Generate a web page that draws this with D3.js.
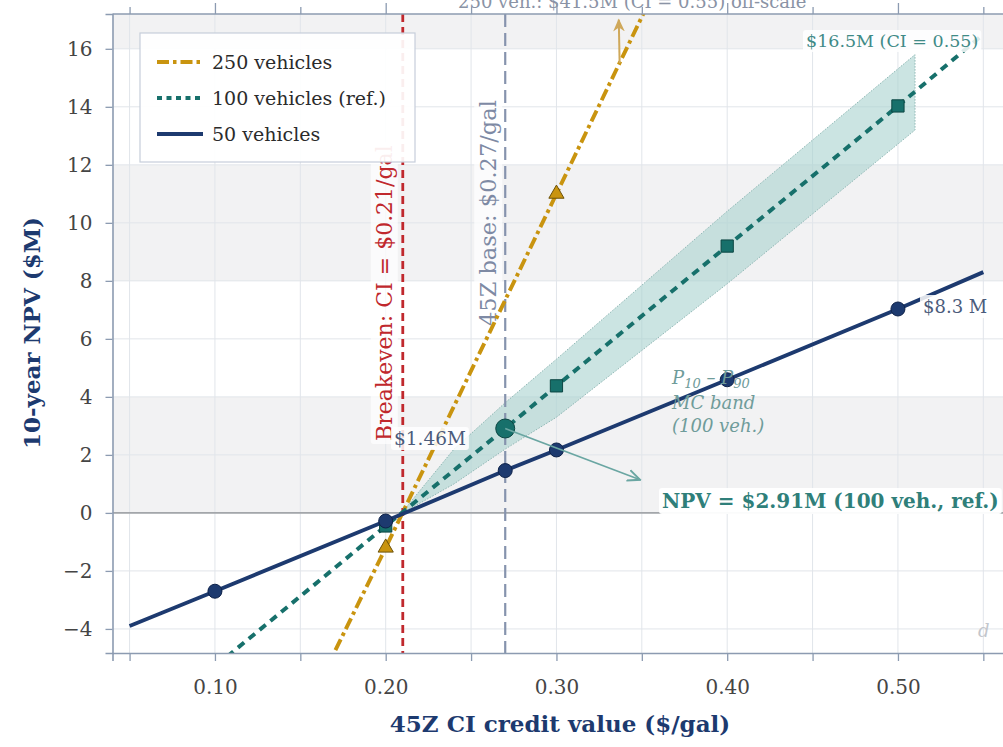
<!DOCTYPE html>
<html lang="en">
<head>
<meta charset="UTF-8">
<title>45Z CI credit vs 10-year NPV</title>
<script src="https://d3js.org/d3.v7.min.js"></script>
<style>
body { margin: 0; background: #fff; }
svg { display: block; font-family: "DejaVu Serif", serif; }
.tick text { font-family: "DejaVu Serif", serif; }
</style>
</head>
<body>
<div id="chart"></div>
<script>
// credit value ($/gal) where NPV was evaluated
var ciGrid = [0.05, 0.10, 0.20, 0.27, 0.30, 0.40, 0.50, 0.55];
var npv50  = [-3.9, -2.7, -0.28, 1.46, 2.17, 4.59, 7.03, 8.3];
var npv100 = [-7.7, -5.3, -0.45, 2.91, 4.38, 9.2, 14.03, 16.5];
var npv250 = [-19.3, -13.2, -1.2, 7.34, 11.0, 23.2, 35.4, 41.5];

// points that get a marker
var mark50  = [0.10, 0.20, 0.27, 0.30, 0.40, 0.50];
var mark100 = [0.20, 0.30, 0.40, 0.50];
var mark250 = [0.20, 0.30, 0.40, 0.50];

// P10 - P90 Monte Carlo band (100 vehicles)
var bandCI = [0.21, 0.24, 0.27, 0.30, 0.40, 0.51];
var bandLo = [0.0, 1.0, 2.2, 3.3, 7.9, 13.2];
var bandHi = [0.05, 2.2, 3.8, 5.3, 10.4, 15.8];

var breakevenCI = 0.21;
var baseCI = 0.27;
var xTicks = [0.05, 0.10, 0.15, 0.20, 0.25, 0.30, 0.35, 0.40, 0.45, 0.50, 0.55];
var yTicks = [-4, -2, 0, 2, 4, 6, 8, 10, 12, 14, 16];
var shadeBands = [[0, 4], [8, 12], [16, 20]];

var W = 1003, H = 747;
var pLeft = 112.5, pTop = 14, pBottom = 653;

var navy = "#1d3a6f", teal = "#17706b", gold = "#c9940f";
var red = "#c0282d", slate = "#8693ad", spine = "#8c9bb1";

var svg = d3.select("#chart").append("svg")
    .attr("width", W).attr("height", H);

var x = d3.scaleLinear().domain([0.04, 0.58]).range([pLeft, pLeft + 0.54 * 1707.5]);
var y = d3.scaleLinear().domain([-4.83, 17.2]).range([pBottom, pTop]);

var defs = svg.append("defs");
defs.append("clipPath").attr("id", "plot")
  .append("rect").attr("x", pLeft).attr("y", pTop)
    .attr("width", W - pLeft + 40).attr("height", pBottom - pTop);

defs.append("marker").attr("id", "tealHead")
    .attr("viewBox", "0 0 10 10").attr("refX", 9).attr("refY", 5)
    .attr("markerWidth", 14).attr("markerHeight", 14).attr("markerUnits", "userSpaceOnUse")
    .attr("orient", "auto")
  .append("path").attr("d", "M0,1 L9,5 L0,9").attr("fill", "none")
    .attr("stroke", "#6aa6a2").attr("stroke-width", 1.4);
defs.append("marker").attr("id", "goldHead")
    .attr("viewBox", "0 0 10 10").attr("refX", 9).attr("refY", 5)
    .attr("markerWidth", 13).attr("markerHeight", 13).attr("markerUnits", "userSpaceOnUse")
    .attr("orient", "auto")
  .append("path").attr("d", "M0,0.5 L10,5 L0,9.5 L3,5 Z").attr("fill", "#cfa85a");

var plot = svg.append("g").attr("clip-path", "url(#plot)");

// alternating shaded bands
plot.selectAll(".shade").data(shadeBands).enter().append("rect")
    .attr("x", pLeft).attr("width", W)
    .attr("y", function(d) { return y(d[1]); })
    .attr("height", function(d) { return y(d[0]) - y(d[1]); })
    .attr("fill", "#f2f2f3");

// grid
plot.selectAll(".vgrid").data(xTicks).enter().append("line")
    .attr("x1", function(d) { return x(d); }).attr("x2", function(d) { return x(d); })
    .attr("y1", pTop).attr("y2", pBottom)
    .attr("stroke", "#e1e5ea").attr("stroke-width", 1);
plot.selectAll(".hgrid").data(yTicks).enter().append("line")
    .attr("x1", pLeft).attr("x2", W)
    .attr("y1", function(d) { return y(d); }).attr("y2", function(d) { return y(d); })
    .attr("stroke", "#e1e5ea").attr("stroke-width", 1);

// zero line
plot.append("line").attr("x1", pLeft).attr("x2", W)
    .attr("y1", y(0)).attr("y2", y(0))
    .attr("stroke", "#a3a6aa").attr("stroke-width", 1.8);

// MC band
var bandData = bandCI.map(function(c, i) { return { c: c, lo: bandLo[i], hi: bandHi[i] }; });
plot.append("path").datum(bandData)
    .attr("d", d3.area().x(function(d) { return x(d.c); })
        .y0(function(d) { return y(d.lo); }).y1(function(d) { return y(d.hi); }))
    .attr("fill", "#a9d2cf").attr("fill-opacity", 0.6)
    .attr("stroke", "#8fb7b4").attr("stroke-width", 1).attr("stroke-dasharray", "1.5,1.5");

// vertical reference lines
plot.append("line").attr("x1", x(breakevenCI)).attr("x2", x(breakevenCI))
    .attr("y1", pTop).attr("y2", pBottom)
    .attr("stroke", red).attr("stroke-width", 2.8).attr("stroke-dasharray", "8,5");
plot.append("line").attr("x1", x(baseCI)).attr("x2", x(baseCI))
    .attr("y1", pTop).attr("y2", pBottom)
    .attr("stroke", slate).attr("stroke-width", 2.2).attr("stroke-dasharray", "13,6");

// helper: text with a white box behind it
function boxed(parent, px, py, str, o) {
  var g = parent.append("g")
      .attr("transform", "translate(" + px + "," + py + ")" + (o.rotate ? " rotate(" + o.rotate + ")" : ""));
  var bg = g.append("rect");
  var t = g.append("text")
      .attr("text-anchor", o.anchor || "start")
      .attr("font-size", o.size)
      .attr("font-weight", o.weight || "normal")
      .attr("font-style", o.italic ? "italic" : "normal")
      .attr("fill", o.color)
      .text(str);
  var b = t.node().getBBox();
  var p = o.pad == null ? 3 : o.pad;
  bg.attr("x", b.x - p).attr("y", b.y - 1).attr("width", b.width + 2 * p).attr("height", b.height + 2)
    .attr("rx", 3).attr("fill", "#fff").attr("fill-opacity", o.bgOpacity == null ? 0.85 : o.bgOpacity);
  return g;
}

// labels of the reference lines sit under the data lines
boxed(plot, x(breakevenCI) - 11, 441, "Breakeven: CI = $0.21/gal",
  { rotate: -90, size: 22, color: red, bgOpacity: 0.7 });
boxed(plot, x(baseCI) - 9, 326, "45Z base: $0.27/gal",
  { rotate: -90, size: 22.5, color: "#7e8aa4", bgOpacity: 0.7 });

// series lines
function seriesData(vals) {
  return ciGrid.map(function(c, i) { return { c: c, v: vals[i] }; });
}
var line = d3.line().x(function(d) { return x(d.c); }).y(function(d) { return y(d.v); });

plot.append("path").datum(seriesData(npv250)).attr("d", line)
    .attr("fill", "none").attr("stroke", gold).attr("stroke-width", 3.9)
    .attr("stroke-dasharray", "12,4,3.5,4");
plot.append("path").datum(seriesData(npv100)).attr("d", line)
    .attr("fill", "none").attr("stroke", teal).attr("stroke-width", 4)
    .attr("stroke-dasharray", "8,6");
plot.append("path").datum(seriesData(npv50)).attr("d", line)
    .attr("fill", "none").attr("stroke", navy).attr("stroke-width", 3.9);

// markers
function valAt(vals, c) { return vals[ciGrid.indexOf(c)]; }

plot.selectAll(".m250").data(mark250).enter().append("path")
    .attr("transform", function(d) { return "translate(" + x(d) + "," + y(valAt(npv250, d)) + ")"; })
    .attr("d", d3.symbol().type(d3.symbolTriangle).size(100))
    .attr("fill", gold).attr("stroke", "#6d5208").attr("stroke-width", 1);
plot.selectAll(".m100").data(mark100).enter().append("path")
    .attr("transform", function(d) { return "translate(" + x(d) + "," + y(valAt(npv100, d)) + ")"; })
    .attr("d", d3.symbol().type(d3.symbolSquare).size(150))
    .attr("fill", teal).attr("stroke", "#0c4643").attr("stroke-width", 1);
plot.selectAll(".m50").data(mark50).enter().append("circle")
    .attr("cx", function(d) { return x(d); })
    .attr("cy", function(d) { return y(valAt(npv50, d)); })
    .attr("r", 7)
    .attr("fill", navy).attr("stroke", "#0e2249").attr("stroke-width", 1);

// reference point (100 veh. at base credit)
plot.append("circle").attr("cx", x(baseCI)).attr("cy", y(valAt(npv100, baseCI)))
    .attr("r", 9.5).attr("fill", teal).attr("stroke", "#0c4643").attr("stroke-width", 1);

// arrows
plot.append("line")
    .attr("x1", x(baseCI)).attr("y1", y(valAt(npv100, baseCI)))
    .attr("x2", x(0.349)).attr("y2", y(1.14))
    .attr("stroke", "#6aa6a2").attr("stroke-width", 1.6).attr("marker-end", "url(#tealHead)");
plot.append("line")
    .attr("x1", x(0.337)).attr("y1", y(15.5))
    .attr("x2", x(0.3365)).attr("y2", y(17.0))
    .attr("stroke", "#cfa85a").attr("stroke-width", 2).attr("marker-end", "url(#goldHead)");

// annotations
boxed(svg, 458, 8, "250 veh.: $41.5M (CI = 0.55) off-scale", { size: 18, color: "#8a93a5", bgOpacity: 0.95, pad: 6 });
boxed(svg, 806, 47, "$16.5M (CI = 0.55)", { size: 17.5, color: "#3f8a86" });
boxed(svg, 923, 313, "$8.3 M", { size: 18, color: "#4b5b7b" });
boxed(svg, 394, 445, "$1.46M", { size: 18.5, color: "#4b5b7b" });
boxed(svg, 662, 508, "NPV = $2.91M (100 veh., ref.)", { size: 20, weight: "bold", color: "#2f7f7a", bgOpacity: 0.95 });

var mc = svg.append("text").attr("x", 672).attr("y", 384)
    .attr("font-size", 18).attr("font-style", "italic").attr("fill", "#6f9c9a");
mc.append("tspan").text("P");
mc.append("tspan").attr("font-size", 13).attr("dy", 4).text("10");
mc.append("tspan").attr("dy", -4).text(" – P");
mc.append("tspan").attr("font-size", 13).attr("dy", 4).text("90");
svg.append("text").attr("x", 672).attr("y", 409)
    .attr("font-size", 18).attr("font-style", "italic").attr("fill", "#6f9c9a").text("MC band");
svg.append("text").attr("x", 672).attr("y", 432)
    .attr("font-size", 18).attr("font-style", "italic").attr("fill", "#6f9c9a").text("(100 veh.)");

svg.append("text").attr("x", 978).attr("y", 637)
    .attr("font-size", 18).attr("font-style", "italic").attr("fill", "#c3c6cc").text("d");

// axes
var xAxis = svg.append("g").attr("transform", "translate(0," + pBottom + ")")
    .call(d3.axisBottom(x).tickValues(xTicks).tickSize(8).tickPadding(19)
      .tickFormat(function(d) { return Math.round(d * 100) % 10 === 0 ? d3.format(".2f")(d) : ""; }));
var xTop = svg.append("g").attr("transform", "translate(0," + pTop + ")")
    .call(d3.axisTop(x).tickValues(xTicks.filter(function(d, i) { return i % 2 === 1; })).tickSize(11).tickFormat(""));
var xTopMinor = svg.append("g").attr("transform", "translate(0," + pTop + ")")
    .call(d3.axisTop(x).tickValues(xTicks.filter(function(d, i) { return i % 2 === 0; })).tickSize(7).tickFormat(""));
var yAxis = svg.append("g").attr("transform", "translate(" + pLeft + ",0)")
    .call(d3.axisLeft(y).tickValues(yTicks).tickSize(7).tickPadding(13)
      .tickFormat(function(d) { return d < 0 ? "\u2212" + Math.abs(d) : d; }));

[xAxis, xTop, xTopMinor, yAxis].forEach(function(a) {
  a.select(".domain").attr("stroke", spine).attr("stroke-width", 1.6);
  a.selectAll(".tick line").attr("stroke", spine).attr("stroke-width", 1.3);
  a.selectAll(".tick text").attr("font-size", 20).attr("fill", "#454545");
});
xTop.select(".domain").attr("d", "M" + pLeft + ",0H" + W);
xTopMinor.select(".domain").remove();

// axis titles
svg.append("text").attr("x", 560).attr("y", 732).attr("text-anchor", "middle")
    .attr("font-size", 23).attr("font-weight", "bold").attr("fill", navy)
    .text("45Z CI credit value ($/gal)");
svg.append("text").attr("transform", "translate(40,333) rotate(-90)").attr("text-anchor", "middle")
    .attr("font-size", 23).attr("font-weight", "bold").attr("fill", navy)
    .text("10-year NPV ($M)");

// legend
var legend = svg.append("g");
legend.append("rect").attr("x", 140).attr("y", 33).attr("width", 275).attr("height", 129)
    .attr("fill", "#fff").attr("fill-opacity", 0.92).attr("stroke", "#c6ceda").attr("stroke-width", 1.2);
var legendItems = [
  { label: "250 vehicles", color: gold, dash: "12,4,3.5,4" },
  { label: "100 vehicles (ref.)", color: teal, dash: "5,4.5" },
  { label: "50 vehicles", color: navy, dash: null }
];
legendItems.forEach(function(d, i) {
  var ly = 62 + i * 36;
  legend.append("line").attr("x1", 157).attr("x2", 203).attr("y1", ly).attr("y2", ly)
      .attr("stroke", d.color).attr("stroke-width", 3.8).attr("stroke-dasharray", d.dash);
  legend.append("text").attr("x", 212).attr("y", ly + 7)
      .attr("font-size", 19).attr("fill", "#2b2b2b").text(d.label);
});
</script>
</body>
</html>
